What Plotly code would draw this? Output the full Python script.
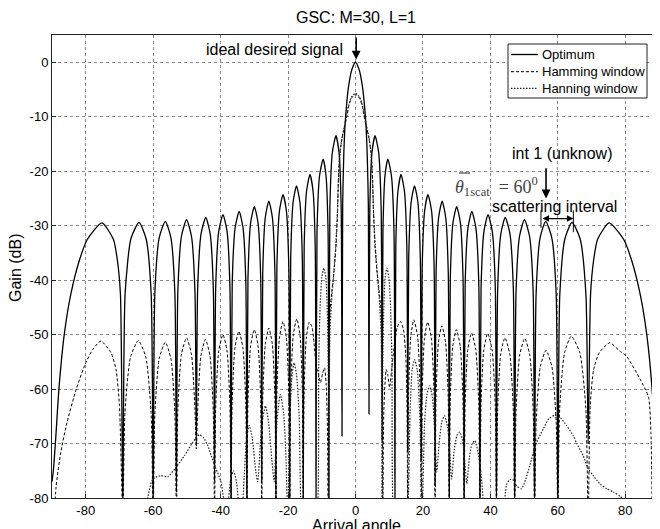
import plotly.graph_objects as go

# ---------------- data ----------------
# Optimum (solid)
opt_angle = [
    -90, -89.6, -89.0, -87.9, -86.37, -84.46, -81.9, -79.5, -75.2, -71.8, -70.6, -69.7, -69.0,
    -68.33, -66.6, -64.2, -62.1, -60.59, -60.0,
    -59.5, -58.2, -56.4, -54.75, -53.56, -53.1,
    -52.68, -51.6, -50.1, -48.65, -47.61, -47.2,
    -46.81, -45.8, -44.4, -43.1, -42.16, -41.8,
    -41.45, -40.55, -39.3, -38.1, -37.24, -36.9,
    -36.56, -35.7, -34.5, -33.35, -32.52, -32.2,
    -31.89, -31.1, -30.0, -28.9, -28.11, -27.8,
    -27.51, -26.75, -25.7, -24.65, -23.89, -23.6,
    -23.31, -22.55, -21.5, -20.5, -19.78, -19.5,
    -19.22, -18.5, -17.5, -16.5, -15.78, -15.5,
    -15.22, -14.5, -13.5, -12.6, -11.95, -11.7,
    -11.41, -10.65, -9.6, -8.75, -8.14, -7.9,
    -7.6, -6.85, -5.8, -4.9, -4.25, -4.0,
    -3.8, -3.5, -3.1, -2.6, -2.0, -1.0, 0, 1.0, 2.0, 2.6, 3.1, 3.5, 3.8, 4.0,
    4.25, 4.9, 5.8, 6.85, 7.6, 7.9,
    8.14, 8.75, 9.6, 10.65, 11.41, 11.7,
    11.95, 12.6, 13.5, 14.5, 15.22, 15.5,
    15.78, 16.5, 17.5, 18.5, 19.22, 19.5,
    19.78, 20.5, 21.5, 22.55, 23.31, 23.6,
    23.89, 24.65, 25.7, 26.75, 27.51, 27.8,
    28.11, 28.9, 30.0, 31.1, 31.89, 32.2,
    32.52, 33.35, 34.5, 35.7, 36.56, 36.9,
    37.24, 38.1, 39.3, 40.55, 41.45, 41.8,
    42.16, 43.1, 44.4, 45.8, 46.81, 47.2,
    47.61, 48.65, 50.1, 51.6, 52.68, 53.1,
    53.56, 54.75, 56.4, 58.2, 59.5, 60.0,
    60.59, 62.1, 64.2, 66.6, 68.33, 69.0,
    69.7, 70.6, 71.8, 75.2, 79.5, 81.9, 84.46, 86.37, 87.9, 89.0, 89.5, 90,
]
opt_gain = [
    -77, -75, -70, -59.6, -50.0, -42.7, -36.4, -32.5, -29.5, -32.5, -36.4, -42.7, -82,
    -42.6, -32.4, -29.4, -32.4, -42.6, -82,
    -42.4, -32.2, -29.2, -32.2, -42.4, -79,
    -42.1, -31.9, -28.9, -31.9, -42.1, -70.4,
    -41.7, -31.5, -28.5, -31.5, -41.7, -77,
    -41.2, -31.0, -28.0, -31.0, -41.2, -82,
    -40.6, -30.4, -27.4, -30.4, -40.6, -82,
    -39.7, -29.5, -26.5, -29.5, -39.7, -77,
    -38.7, -28.5, -25.5, -28.5, -38.7, -82,
    -37.5, -27.3, -24.3, -27.3, -37.5, -82,
    -35.9, -25.7, -22.7, -25.7, -35.9, -82,
    -33.8, -23.6, -20.6, -23.6, -33.8, -82,
    -31.0, -20.8, -17.8, -20.8, -31.0, -82,
    -26.7, -16.5, -13.5, -16.5, -26.7, -68.6,
    -26, -17.5, -11.5, -7.5, -4.2, -1.2, 0, -1.2, -4.2, -7.5, -11.5, -17.5, -26, -64.6,
    -26.7, -16.5, -13.5, -16.5, -26.7, -69.5,
    -31.0, -20.8, -17.8, -20.8, -31.0, -82,
    -33.8, -23.6, -20.6, -23.6, -33.8, -71.5,
    -35.9, -25.7, -22.7, -25.7, -35.9, -73,
    -37.5, -27.3, -24.3, -27.3, -37.5, -77.7,
    -38.7, -28.5, -25.5, -28.5, -38.7, -82,
    -39.7, -29.5, -26.5, -29.5, -39.7, -82,
    -40.6, -30.4, -27.4, -30.4, -40.6, -82,
    -41.2, -31.0, -28.0, -31.0, -41.2, -82,
    -41.7, -31.5, -28.5, -31.5, -41.7, -82,
    -42.1, -31.9, -28.9, -31.9, -42.1, -82,
    -42.4, -32.2, -29.2, -32.2, -42.4, -82,
    -42.6, -32.4, -29.4, -32.4, -42.6, -70,
    -42.7, -36.4, -32.5, -29.5, -32.5, -36.4, -42.7, -50.0, -59.6, -72.4, -84, -77,
]

# Hamming window (dashed)
ham_angle = [
    -89.3, -88.8, -87.5, -85.5, -82.8, -80.2, -78.0, -75.5, -72.5, -71.0, -70.0, -69.0,
    -68.36, -66.7, -64.4, -62.2, -60.62, -60.0,
    -59.5, -58.2, -56.4, -54.75, -53.56, -53.1,
    -52.68, -51.6, -50.1, -48.65, -47.61, -47.2,
    -46.82, -45.85, -44.5, -43.15, -42.18, -41.8,
    -41.45, -40.55, -39.3, -38.1, -37.24, -36.9,
    -36.58, -35.75, -34.6, -33.4, -32.54, -32.2,
    -31.89, -31.1, -30.0, -28.9, -28.11, -27.8,
    -27.51, -26.75, -25.7, -24.65, -23.89, -23.6,
    -23.31, -22.55, -21.5, -20.5, -19.78, -19.5,
    -19.21, -18.45, -17.4, -16.45, -15.77, -15.5,
    -15.25, -14.6, -13.7, -12.9, -12.3, -11.6, -11.0, -10.4, -9.7, -9.2, -8.7, -8.3, -8.1,
    -7.9, -7.6, -7.0, -6.3, -5.7, -5.3, -5.0, -4.6, -4.0, -3.3, -2.5, -2.0, -1.2, 0,
    1.2, 2.0, 2.5, 3.3, 4.0, 4.6, 5.0, 5.3, 5.7, 6.3, 7.0, 7.6, 7.9, 8.1,
    8.4, 9.1, 9.6, 10.1, 10.8, 11.6, 12.4, 13.3, 14.2, 14.9, 15.25, 15.5,
    15.75, 16.4, 17.3, 18.4, 19.19, 19.5,
    19.77, 20.45, 21.4, 22.5, 23.29, 23.6,
    23.88, 24.6, 25.6, 26.7, 27.49, 27.8,
    28.09, 28.85, 29.9, 31.05, 31.88, 32.2,
    32.51, 33.3, 34.4, 35.65, 36.55, 36.9,
    37.22, 38.05, 39.2, 40.5, 41.44, 41.8,
    42.15, 43.05, 44.3, 45.75, 46.79, 47.2,
    47.62, 48.7, 50.2, 51.65, 52.69, 53.1,
    53.58, 54.8, 56.5, 58.25, 59.51, 60.0,
    60.56, 62.0, 64.0, 66.5, 68.3, 69.0,
    69.6, 70.6, 72.3, 75.4, 78.3, 80.4, 84.4, 86.9, 87.6, 88.0,
]
ham_gain = [
    -84, -78, -72, -66, -60, -55.5, -52.8, -51.2, -53.3, -56.5, -63, -84,
    -64.3, -54.1, -51.1, -54.1, -64.3, -84,
    -64.6, -54.4, -51.4, -54.4, -64.6, -84,
    -63.8, -53.6, -50.6, -53.6, -63.8, -71,
    -64.1, -53.9, -50.9, -53.9, -64.1, -84,
    -63.2, -53.0, -50.0, -53.0, -63.2, -84,
    -62.6, -52.4, -49.4, -52.4, -62.6, -84,
    -62.3, -52.1, -49.1, -52.1, -62.3, -84,
    -62.0, -51.8, -48.8, -51.8, -62.0, -84,
    -60.8, -50.6, -47.6, -50.6, -60.8, -84,
    -60.3, -50.1, -47.1, -50.1, -60.3, -84,
    -61, -50.7, -47.7, -48.6, -51.5, -56, -57.2, -58.8, -57, -56.1, -59, -68, -84,
    -56, -46, -42, -38, -33, -27, -20, -16.5, -14.0, -12.0, -9.8, -8.0, -6.6, -5.9,
    -6.6, -8.0, -9.8, -12.0, -14.0, -16.5, -20, -27, -33, -38, -42, -46, -56, -84,
    -64, -56.4, -57.5, -59.7, -56, -51.5, -48.6, -47.6, -49, -54, -62, -84,
    -60.5, -50.3, -47.3, -50.3, -60.5, -84,
    -60.9, -50.7, -47.7, -50.7, -60.9, -84,
    -61.6, -51.4, -48.4, -51.4, -61.6, -84,
    -62.3, -52.1, -49.1, -52.1, -62.3, -84,
    -62.9, -52.7, -49.7, -52.7, -62.9, -84,
    -63.0, -52.8, -49.8, -52.8, -63.0, -84,
    -63.8, -53.6, -50.6, -53.6, -63.8, -84,
    -63.9, -53.7, -50.7, -53.7, -63.9, -84,
    -66.1, -55.9, -52.9, -55.9, -66.1, -84,
    -63.5, -53.3, -50.3, -53.3, -63.5, -84,
    -63, -56.5, -53.3, -51.5, -53, -54, -58.2, -61.5, -68, -84,
]

# Hanning window (dotted)
han_angle = [
    -63.0, -61.6, -60.1, -57.7, -55.7, -53.5, -50.7, -48.5, -47.2, -46.3, -45.0, -43.8, -42.8,
    -41.4, -39.9, -38.9, -38.0, -37.0, -36.2, -35.3, -34.5, -33.8,
    -33.0, -32.3, -31.5, -30.6, -29.6, -29.0, -28.2, -27.4, -26.7, -25.8, -24.8, -24.1,
    -23.3, -22.3, -21.3, -20.6, -20.1, -19.4, -18.8, -18.2, -17.5, -16.7, -16.0, -14.0,
    -11.4, -10.9, -10.5, -10.0, -9.4, -8.8, -8.4, -8.1, -7.9,
    -7.6, -7.1, -6.5, -5.9, -5.4, -5.0, -4.6, -4.0, -3.3, -2.6, -2.0, -1.2, 0,
    1.2, 2.0, 2.6, 3.3, 4.0, 4.6, 5.0, 5.4, 5.9, 6.5, 7.1, 7.6, 7.9,
    8.1, 8.4, 8.8, 9.3, 9.9, 10.4, 10.8, 11.3, 13.6,
    15.4, 16.2, 16.8, 17.5, 18.3, 19.0, 19.8, 20.5, 21.2, 22.0, 22.8, 23.5, 24.1,
    24.8, 25.6, 26.4, 27.3, 28.0, 28.5, 29.3, 30.1, 30.9, 31.8, 32.5, 33.0,
    33.8, 34.6, 35.4, 36.3, 37.3, 38.4, 41.0, 43.8,
    44.8, 45.8, 46.6, 47.8, 49.2, 50.5, 51.7, 53.7, 55.7, 57.3, 59.1, 60.8,
    62.6, 64.6, 65.6, 67.5, 69.0, 70.5, 72.5, 74.5, 76.5, 78.5, 80.5, 83.0,
]
han_gain = [
    -90, -80, -76.5, -75.9, -76.1, -74.6, -72.2, -70, -68.9, -68.4, -69.0, -70.4, -72.2,
    -74.6, -77, -80.5, -81, -76.5, -75, -77, -82, -84,
    -76, -69, -66.7, -69, -75, -77, -70, -65, -63.1, -66, -73, -77,
    -66, -61.0, -64.5, -73, -84, -64, -57.3, -55.2, -57.3, -65, -84, -92,
    -84, -55, -45, -39.5, -37.8, -39.5, -45, -55, -84,
    -50, -44, -39, -34, -28, -21, -16.8, -13.8, -11.8, -9.6, -7.8, -6.4, -5.7,
    -6.4, -7.8, -9.6, -11.8, -13.8, -16.8, -21, -28, -34, -39, -44, -50, -84,
    -55, -45, -39.5, -37.8, -39.5, -45, -55, -84, -92,
    -84, -64, -56.5, -54.6, -56.5, -64, -82, -66, -61, -59.4, -61.5, -68, -75.2,
    -70, -66, -64.9, -67, -72, -76.5, -71, -68.5, -67.9, -69.5, -74, -77.4,
    -72.5, -70, -69.5, -71.5, -76, -84, -92, -84,
    -77.5, -76.6, -76.6, -77.8, -78.3, -76.5, -74.0, -69.8, -67.3, -65.5, -64.8, -65.3,
    -66.7, -68.6, -70.0, -72.2, -74.6, -75.9, -77.4, -78.3, -78.9, -79.7, -81, -84,
]

series_names = ["Optimum", "Hamming window", "Hanning window"]
x_ticks = [-80, -60, -40, -20, 0, 20, 40, 60, 80]
y_ticks = [0, -10, -20, -30, -40, -50, -60, -70, -80]

assert len(opt_angle) == len(opt_gain), (len(opt_angle), len(opt_gain))
assert len(ham_angle) == len(ham_gain), (len(ham_angle), len(ham_gain))
assert len(han_angle) == len(han_gain), (len(han_angle), len(han_gain))

FONT = "Liberation Sans, Arial, sans-serif"
SOLID = dict(color="black", width=1.3)
DASHED = dict(color="black", width=1, dash="3px,2px")
DOTTED = dict(color="#222222", width=1.2, dash="1.5px,1.5px")

fig = go.Figure()
fig.add_trace(go.Scatter(x=opt_angle, y=opt_gain, mode="lines", name=series_names[0],
                         line=dict(**SOLID, shape="spline", smoothing=0.6)))
fig.add_trace(go.Scatter(x=ham_angle, y=ham_gain, mode="lines", name=series_names[1],
                         line=dict(**DASHED, shape="spline", smoothing=0.6)))
fig.add_trace(go.Scatter(x=han_angle, y=han_gain, mode="lines", name=series_names[2],
                         line=dict(**DOTTED, shape="spline", smoothing=0.6)))

axis_common = dict(showline=True, linecolor="#222", linewidth=1, mirror=True,
                   showgrid=True, gridcolor="#888", gridwidth=1, griddash="dot",
                   zeroline=False, ticks="inside", ticklen=4, tickcolor="#222",
                   automargin=False,
                   tickfont=dict(family=FONT, size=13, color="black"))

fig.update_xaxes(range=[-90, 90], tickvals=x_ticks, ticktext=[str(v) for v in x_ticks], **axis_common)
fig.update_yaxes(range=[-80, 5], tickvals=y_ticks, ticktext=[str(v) for v in y_ticks], **axis_common)

# page body has an 8px margin: the figure is sized so it ends at the window edge
W, H = 652, 521
fig.update_layout(
    width=W, height=H,
    margin=dict(l=44, r=1, t=27, b=31),
    plot_bgcolor="white", paper_bgcolor="white",
    font=dict(family=FONT, size=13, color="black"),
    title=dict(text="GSC: M=30, L=1", x=0.5008, xref="paper", xanchor="center",
               y=1 - 9 / H, yref="container", yanchor="middle",
               font=dict(family=FONT, size=16, color="black")),
    showlegend=False,
)


def px_x(p):
    return (p - 52) / 607.0


def px_y(p):
    return (498 - p) / 463.0


annotations = [
    # axis titles
    dict(text="Gain (dB)", xref="paper", yref="paper", x=px_x(15), y=px_y(268),
         textangle=-90, showarrow=False, font=dict(family=FONT, size=16),
         xanchor="center", yanchor="middle"),
    dict(text="Arrival angle", xref="paper", yref="paper", x=px_x(356), y=px_y(525),
         showarrow=False, font=dict(family=FONT, size=16),
         xanchor="center", yanchor="middle"),
    # ideal desired signal
    dict(text="ideal desired signal", x=-3.2, y=2.4, xref="x", yref="y",
         showarrow=False, xanchor="right", yanchor="middle", font=dict(family=FONT, size=16)),
    dict(text="", x=0.2, y=0.5, ax=0.2, ay=4.8, xref="x", yref="y", axref="x", ayref="y",
         showarrow=True, arrowhead=2, arrowsize=1.1, arrowwidth=1.6, arrowcolor="black"),
    # interference
    dict(text="int 1 (unknow)", x=61.5, y=-16.8, xref="x", yref="y",
         showarrow=False, xanchor="center", yanchor="middle", font=dict(family=FONT, size=16)),
    dict(text="", x=56.5, y=-25.0, ax=56.5, ay=-19.2, xref="x", yref="y", axref="x", ayref="y",
         showarrow=True, arrowhead=2, arrowsize=1.1, arrowwidth=1.6, arrowcolor="black"),
    dict(text="<i>θ</i><sub>1scat</sub>  = 60<sup>0</sup>", x=54.7, y=-22.8, xref="x", yref="y",
         showarrow=False, xanchor="right", yanchor="middle",
         font=dict(family="Liberation Serif, DejaVu Serif, serif", size=18, color="#444")),
    dict(text="scattering interval", x=59.1, y=-26.5, xref="x", yref="y",
         showarrow=False, xanchor="center", yanchor="middle", font=dict(family=FONT, size=16)),
    dict(text="", x=64.6, y=-28.7, ax=55.0, ay=-28.7, xref="x", yref="y", axref="x", ayref="y",
         showarrow=True, arrowhead=2, startarrowhead=2, arrowside="end+start",
         arrowsize=1, arrowwidth=1.3, arrowcolor="black"),
]

# legend (drawn by hand to match the compact MATLAB legend box)
legend_rows = [54.5, 71.7, 88.3]
legend_styles = [SOLID, DASHED, DOTTED]
for name, row in zip(series_names, legend_rows):
    annotations.append(dict(text=name, xref="paper", yref="paper", x=px_x(540), y=px_y(row),
                            xanchor="left", yanchor="middle", showarrow=False,
                            font=dict(family=FONT, size=13, color="black")))
fig.update_layout(annotations=annotations)

fig.add_shape(type="rect", xref="paper", yref="paper",
              x0=px_x(508), x1=px_x(647), y0=px_y(98), y1=px_y(44),
              line=dict(color="#222", width=1), fillcolor="white", layer="above")
for style, row in zip(legend_styles, legend_rows):
    fig.add_shape(type="line", xref="paper", yref="paper",
                  x0=px_x(511), x1=px_x(538), y0=px_y(row), y1=px_y(row),
                  line=style, layer="above")

# bar over theta
fig.add_shape(type="line", xref="paper", yref="paper",
              x0=px_x(459), x1=px_x(470), y0=px_y(173), y1=px_y(173),
              line=dict(color="#444", width=1.2), layer="above")

fig.add_shape(type="line", x0=55.0, x1=55.0, y0=-27.2, y1=-30.4, xref="x", yref="y",
              line=dict(color="black", width=1))
fig.add_shape(type="line", x0=64.6, x1=64.6, y0=-27.2, y1=-31.2, xref="x", yref="y",
              line=dict(color="black", width=1))

fig.write_html("out.html")
